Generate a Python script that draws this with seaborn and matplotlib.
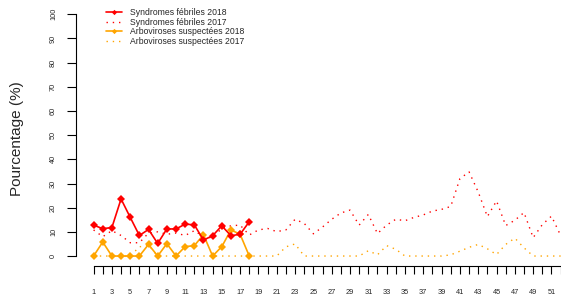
import matplotlib
matplotlib.use("Agg")
import matplotlib.pyplot as plt
import seaborn as sns
import numpy as np
import pandas as pd

weeks = list(range(1, 53))
weeks_2018 = list(range(1, 19))

sf_2018 = [12.8, 11.3, 11.8, 23.6, 16.0, 8.5, 11.0, 5.2, 11.2, 11.2,
           13.2, 12.9, 6.6, 8.4, 12.5, 8.4, 9.0, 14.2]
arbo_2018 = [0, 5.8, 0, 0, 0, 0, 4.8, 0, 5.1, 0,
             3.9, 4.3, 8.8, 0, 3.9, 10.8, 9.0, 0]

sf_2017 = [10.8, 8.0, 10.5, 8.5, 5.5, 5.5, 9.5, 10.0, 9.0, 9.5,
           8.5, 10.5, 8.0, 7.5, 11.5, 12.5, 12.8, 8.7, 10.8, 11.4,
           10.1, 10.8, 15.2, 13.5, 9.2, 12.0, 15.2, 17.8, 19.0, 12.8,
           17.2, 9.3, 12.8, 15.2, 14.6, 16.0, 17.0, 18.6, 19.3, 20.5,
           32.0, 34.8, 26.5, 16.3, 22.8, 12.6, 14.8, 18.0, 7.6, 13.0,
           16.5, 8.5]
arbo_2017 = [0, 0, 0, 0, 0, 3.8, 4.5, 0, 0, 0,
             0, 0, 0, 0, 0, 0, 0, 0, 0, 0,
             0, 3.8, 5.0, 0, 0, 0, 0, 0, 0, 0,
             2.2, 0.5, 4.3, 2.8, 0, 0, 0, 0, 0, 0.5,
             2.0, 3.6, 4.8, 3.0, 0.6, 4.8, 7.4, 3.4, 0, 0,
             0, 0]

labels = ["Syndromes fébriles 2018", "Syndromes fébriles 2017",
          "Arboviroses suspectées 2018", "Arboviroses suspectées 2017"]
yticks = list(range(0, 101, 10))

RED = "#FF0000"
ORANGE = "#FFA500"

sns.set_style("white")
plt.rcParams["font.family"] = ["Liberation Sans", "DejaVu Sans"]

W, H = 561, 303
fig = plt.figure(figsize=(W / 100, H / 100), dpi=100)
ax = fig.add_axes([76 / W, 1 - 265.7 / H, 1 - 76 / W, (265.7 - 4.6) / H])

df17 = pd.DataFrame({"week": weeks, "sf": sf_2017, "arbo": arbo_2017})
df18 = pd.DataFrame({"week": weeks_2018, "sf": sf_2018, "arbo": arbo_2018})

dot = (0, (1, 3.5))
sns.lineplot(data=df17, x="week", y="arbo", ax=ax, color=ORANGE, lw=1.0,
             linestyle=dot, label=labels[3])
sns.lineplot(data=df17, x="week", y="sf", ax=ax, color=RED, lw=1.0,
             linestyle=dot, label=labels[1])
sns.lineplot(data=df18, x="week", y="arbo", ax=ax, color=ORANGE, lw=1.2,
             marker="D", markersize=4.5, markeredgewidth=0, label=labels[2])
sns.lineplot(data=df18, x="week", y="sf", ax=ax, color=RED, lw=1.2,
             marker="D", markersize=4.5, markeredgewidth=0, label=labels[0])

ax.set_xlim(-0.92, 52.04)
ax.set_ylim(-4, 104)

for s in ["top", "right"]:
    ax.spines[s].set_visible(False)
for s in ["left", "bottom"]:
    ax.spines[s].set_color("black")
    ax.spines[s].set_linewidth(0.8)
ax.spines["left"].set_bounds(0, 100)
ax.spines["bottom"].set_bounds(1, 52)

ax.set_xticks(weeks)
ax.set_xticklabels([str(w) if w % 2 == 1 else "" for w in weeks])
ax.set_yticks(yticks)
ax.set_yticklabels([str(v) for v in yticks], rotation=90, va="center")
ax.tick_params(axis="x", length=5.5, width=0.8, pad=11.5, labelsize=5.3,
               direction="out", bottom=True, color="black")
ax.tick_params(axis="y", length=6.7, width=0.8, pad=7, labelsize=5.3,
               direction="out", left=True, color="black")

ax.set_xlabel("")
ax.set_ylabel("Pourcentage (%)", fontsize=11)
ax.yaxis.label.set_va("center")
ax.yaxis.set_label_coords((17.5 - 76) / (W - 76), 0.487)

h, l = ax.get_legend_handles_labels()
order = [l.index(x) for x in labels]
ax.legend([h[i] for i in order], [l[i] for i in order],
          loc="upper left", bbox_to_anchor=(106 / W, 1 - 8.3 / H),
          bbox_transform=fig.transFigure, frameon=False, fontsize=6.2,
          borderpad=0, borderaxespad=0, handlelength=1.86,
          handletextpad=0.93, labelspacing=0.05, markerscale=0.6)

fig.savefig("out.png", dpi=100)
